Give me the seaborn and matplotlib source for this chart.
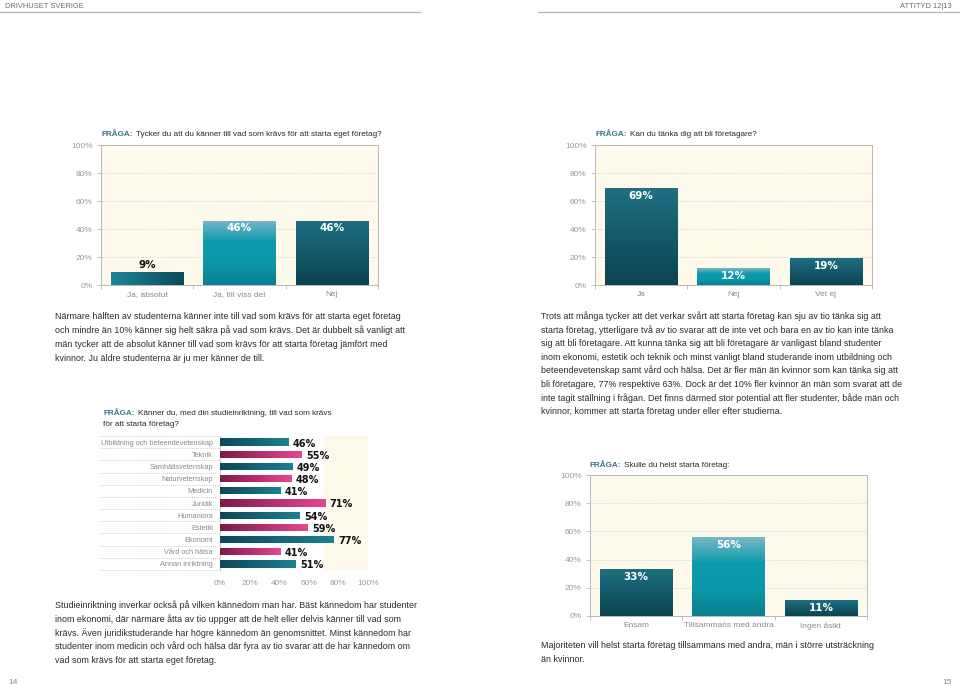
import numpy as np
import matplotlib
matplotlib.use('Agg')
from matplotlib import pyplot as plt
from matplotlib.colors import LinearSegmentedColormap
from matplotlib.transforms import blended_transform_factory
import pandas as pd
import seaborn as sns

# ---- data ----
q1_answers = ['Ja, absolut', 'Ja, till viss del', 'Nej']
q1_shares = [9, 46, 46]

q2_answers = ['Ja', 'Nej', 'Vet ej']
q2_shares = [69, 12, 19]

q3_fields = ['Utbildning och beteendevetenskap', 'Teknik', 'Samhällsvetenskap',
             'Naturvetenskap', 'Medicin', 'Juridik', 'Humaniora', 'Estetik',
             'Ekonomi', 'Vård och hälsa', 'Annan inriktning']
q3_shares = [46, 55, 49, 48, 41, 71, 54, 59, 77, 41, 51]

q4_answers = ['Ensam', 'Tillsammans med andra', 'Ingen åsikt']
q4_shares = [33, 56, 11]

pct_ticks = [0, 20, 40, 60, 80, 100]
pct_labels = ['0%', '20%', '40%', '60%', '80%', '100%']

p1_lines = [
    'Närmare hälften av studenterna känner inte till vad som krävs för att starta eget företag',
    'och mindre än 10% känner sig helt säkra på vad som krävs. Det är dubbelt så vanligt att',
    'män tycker att de absolut känner till vad som krävs för att starta företag jämfört med',
    'kvinnor. Ju äldre studenterna är ju mer känner de till.',
]
p2_lines = [
    'Trots att många tycker att det verkar svårt att starta företag kan sju av tio tänka sig att',
    'starta företag, ytterligare två av tio svarar att de inte vet och bara en av tio kan inte tänka',
    'sig att bli företagare. Att kunna tänka sig att bli företagare är vanligast bland studenter',
    'inom ekonomi, estetik och teknik och minst vanligt bland studerande inom utbildning och',
    'beteendevetenskap samt vård och hälsa. Det är fler män än kvinnor som kan tänka sig att',
    'bli företagare, 77% respektive 63%. Dock är det 10% fler kvinnor än män som svarat att de',
    'inte tagit ställning i frågan. Det finns därmed stor potential att fler studenter, både män och',
    'kvinnor, kommer att starta företag under eller efter studierna.',
]
p3_lines = [
    'Studieinriktning inverkar också på vilken kännedom man har. Bäst kännedom har studenter',
    'inom ekonomi, där närmare åtta av tio uppger att de helt eller delvis känner till vad som',
    'krävs. Även juridikstuderande har högre kännedom än genomsnittet. Minst kännedom har',
    'studenter inom medicin och vård och hälsa där fyra av tio svarar att de har kännedom om',
    'vad som krävs för att starta eget företag.',
]
p4_lines = [
    'Majoriteten vill helst starta företag tillsammans med andra, män i större utsträckning',
    'än kvinnor.',
]

# ---- style ----
sns.set_theme(style='white')
plt.rcParams['font.family'] = ['Liberation Sans Narrow', 'Liberation Sans', 'DejaVu Sans']

CREAM = '#fdfaec'
QCOL = '#3a7383'
TXT = '#2a2a2a'
TICK = '#9a9a9a'
SPINE = '#b8b8b8'
BODY = 6.4

deep = LinearSegmentedColormap.from_list('deep', ['#0b4351', '#15596a', '#1e7082'])
light = LinearSegmentedColormap.from_list('light', ['#0a7f8f', '#0b97a9', '#0d9aac', '#78b8c6'])
side = LinearSegmentedColormap.from_list('side', ['#1b8797', '#0c4a5a'])
teal_h = LinearSegmentedColormap.from_list('teal_h', ['#0d4656', '#146474', '#1d8192'])
pink_h = LinearSegmentedColormap.from_list('pink_h', ['#7a1c4a', '#b52e6c', '#e5488f'])

W, H = 960, 686
fig = plt.figure(figsize=(9.6, 6.86), dpi=100)


def px_axes(left, top, right, bottom):
    return fig.add_axes([left / W, 1 - bottom / H, (right - left) / W, (bottom - top) / H])


def put(x, y, s, **kw):
    kw.setdefault('va', 'baseline')
    return fig.text(x / W, 1 - y / H, s, **kw)


def paint(ax, patch, cmap, horizontal):
    x0, y0 = patch.get_x(), patch.get_y()
    w, h = patch.get_width(), patch.get_height()
    if horizontal:
        grad = np.linspace(0, 1, 256).reshape(1, -1)
    else:
        grad = np.linspace(0, 1, 256).reshape(-1, 1)
    im = ax.imshow(grad, cmap=cmap, extent=(x0, x0 + w, min(y0, y0 + h), max(y0, y0 + h)),
                   origin='lower', aspect='auto', interpolation='bicubic',
                   zorder=patch.get_zorder() + 0.1)
    im.set_clip_path(patch)


def question(x, y, rest, size=5.9):
    t = put(x, y, 'FRÅGA:', color=QCOL, fontsize=size, fontweight='bold')
    bb = t.get_window_extent(fig.canvas.get_renderer())
    put(bb.x1 + 3, y, rest, color=TXT, fontsize=size)


def column_chart(ax, answers, shares, cmaps, horiz, modes):
    df = pd.DataFrame({'svar': answers, 'andel': shares})
    sns.barplot(data=df, x='svar', y='andel', ax=ax, color='#0e5a6a', width=0.78,
                saturation=1, linewidth=0, zorder=3, errorbar=None)
    for patch, cmap, hz in zip(ax.patches, cmaps, horiz):
        paint(ax, patch, cmap, hz)
    n = len(answers)
    ax.set_xlim(-0.5, n - 0.5)
    ax.set_ylim(0, 100)
    ax.set_facecolor(CREAM)
    ax.set_xlabel('')
    ax.set_ylabel('')
    ax.set_yticks(pct_ticks, pct_labels)
    ax.set_xticks(range(n), answers)
    ax.set_xticks(np.arange(-0.5, n), minor=True)
    ax.yaxis.grid(True, linestyle=(0, (1, 1.5)), color='#c9c9c9', lw=0.6)
    ax.set_axisbelow(True)
    ax.tick_params(axis='x', which='major', length=0, pad=4.5, labelsize=6, labelcolor='#8a8a8a')
    ax.tick_params(axis='x', which='minor', bottom=True, length=3, width=0.6, color=SPINE, direction='out')
    ax.tick_params(axis='y', left=True, length=3, width=0.6, color=SPINE, labelsize=6,
                   labelcolor=TICK, pad=3, direction='out')
    for s in ax.spines.values():
        s.set_color(SPINE)
        s.set_linewidth(0.7)
    for i, (v, m) in enumerate(zip(shares, modes)):
        if m == 'above':
            ax.text(i, v + 1.5, f'{v}%', ha='center', va='bottom', color='#111111',
                    fontsize=7.5, fontweight='bold', family='DejaVu Sans', zorder=5)
        else:
            ax.text(i, v - 5.6, f'{v}%', ha='center', va='center', color='white',
                    fontsize=7.5, fontweight='bold', family='DejaVu Sans', zorder=5)


# ---- header / footer ----
put(5, 8, 'DRIVHUSET SVERIGE', color='#6a6a6a', fontsize=5.4)
put(952, 8, 'ATTITYD 12|13', color='#6a6a6a', fontsize=5.4, ha='right')
fig.add_artist(plt.Line2D([0, 420 / W], [1 - 12 / H] * 2, color='#a9c0c5', lw=1))
fig.add_artist(plt.Line2D([538 / W, 1], [1 - 12 / H] * 2, color='#a9c0c5', lw=1))
put(8, 684, '14', color='#8a8a8a', fontsize=6)
put(952, 684, '15', color='#8a8a8a', fontsize=6, ha='right')

# ---- chart 1 ----
ax1 = px_axes(101, 145, 378, 285)
column_chart(ax1, q1_answers, q1_shares, [side, light, deep], [True, False, False],
             ['above', 'in', 'in'])
question(101, 136, 'Tycker du att du känner till vad som krävs för att starta eget företag?')

# ---- chart 2 ----
ax2 = px_axes(595, 145, 872, 285)
column_chart(ax2, q2_answers, q2_shares, [deep, light, deep], [False] * 3, ['in'] * 3)
question(595, 136, 'Kan du tänka dig att bli företagare?')

# ---- chart 3 ----
ax3 = px_axes(220, 436, 368, 570)
df3 = pd.DataFrame({'inriktning': q3_fields, 'andel': q3_shares})
sns.barplot(data=df3, y='inriktning', x='andel', orient='h', ax=ax3, color='#0e5a6a',
            width=0.6, saturation=1, linewidth=0, zorder=3, errorbar=None)
for k, patch in enumerate(ax3.patches):
    paint(ax3, patch, teal_h if k % 2 == 0 else pink_h, True)
n3 = len(q3_fields)
ax3.set_xlim(0, 100)
ax3.set_ylim(n3 - 0.5, -0.5)
ax3.axvspan(70, 100, color=CREAM, zorder=0)
ax3.set_xlabel('')
ax3.set_ylabel('')
ax3.set_xticks(pct_ticks, pct_labels)
ax3.tick_params(axis='x', length=0, pad=7, labelsize=6, labelcolor=TICK)
ax3.tick_params(axis='y', length=0, pad=5, labelsize=5.3, labelcolor='#8a8a8a')
for side_name in ['top', 'right', 'bottom']:
    ax3.spines[side_name].set_visible(False)
ax3.spines['left'].set_color('#c4c4c4')
ax3.spines['left'].set_linewidth(0.6)
sep = blended_transform_factory(ax3.transAxes, ax3.transData)
for i in range(n3 + 1):
    ax3.plot([-0.81, 0], [i - 0.5, i - 0.5], transform=sep, clip_on=False,
             color='#bdbdbd', lw=0.6, linestyle=(0, (1, 1.5)))
for i, v in enumerate(q3_shares):
    ax3.text(v + 3, i + 0.12, f'{v}%', ha='left', va='center', color='#111111',
             fontsize=7, fontweight='bold', family='DejaVu Sans', zorder=5)
question(103, 415, 'Känner du, med din studieinriktning, till vad som krävs')
put(103, 426, 'för att starta företag?', color=TXT, fontsize=5.9)

# ---- chart 4 ----
ax4 = px_axes(590, 475, 867, 616)
column_chart(ax4, q4_answers, q4_shares, [deep, light, deep], [False] * 3, ['in'] * 3)
question(590, 467, 'Skulle du helst starta företag:')

# ---- body text ----
for k, line in enumerate(p1_lines):
    put(55, 319 + 14 * k, line, color=TXT, fontsize=BODY)
for k, line in enumerate(p2_lines):
    put(541, 319 + 13.6 * k, line, color=TXT, fontsize=BODY)
for k, line in enumerate(p3_lines):
    put(55, 608 + 13.8 * k, line, color=TXT, fontsize=BODY)
for k, line in enumerate(p4_lines):
    put(541, 648 + 13.5 * k, line, color=TXT, fontsize=BODY)

fig.savefig('out.png', dpi=100)
